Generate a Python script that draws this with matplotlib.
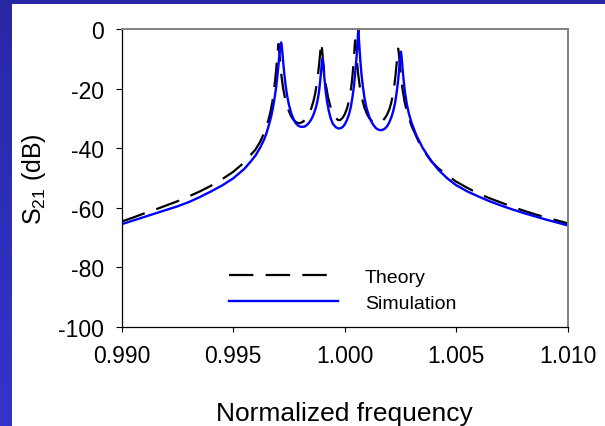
import numpy as np
import matplotlib
matplotlib.use('agg')
import matplotlib.pyplot as plt
from matplotlib.patches import Rectangle

plt.rcParams['font.family'] = ['Liberation Sans', 'DejaVu Sans']
plt.rcParams['mathtext.fontset'] = 'custom'
plt.rcParams['mathtext.rm'] = 'Liberation Sans'
plt.rcParams['mathtext.it'] = 'Liberation Sans:italic'
plt.rcParams['axes.unicode_minus'] = False

# values (normalized frequency, S21 in dB)
sim_freq = [0.9900, 0.9905, 0.9910, 0.9915, 0.9920, 0.9925, 0.9930, 0.9935, 0.9940,
            0.9945, 0.9950, 0.9955, 0.9958, 0.9960, 0.9962, 0.9964,
            0.9965, 0.9966, 0.9967, 0.99678, 0.99685, 0.99692, 0.99697, 0.99702,
            0.99706, 0.99710, 0.99713, 0.99715, 0.99717, 0.99720, 0.99724, 0.99729,
            0.99735, 0.99742, 0.9975, 0.9976, 0.9977, 0.9978, 0.9979, 0.9980,
            0.9981, 0.9982, 0.9983, 0.9984, 0.9985, 0.9986, 0.9987, 0.99877,
            0.99884, 0.99890, 0.99895, 0.99898, 0.99900, 0.99902, 0.99905, 0.99909,
            0.99914, 0.99920, 0.99928, 0.99937, 0.99947, 0.9996, 0.9997, 0.9998,
            0.9999, 1.0000, 1.0001, 1.0002, 1.00028, 1.00035, 1.00042, 1.00048,
            1.00053, 1.00057, 1.00059, 1.00061, 1.00063, 1.00066, 1.00070, 1.00075,
            1.00081, 1.00088, 1.00097, 1.0011, 1.0012, 1.0013, 1.0014, 1.0015,
            1.0016, 1.0017, 1.0018, 1.0019, 1.0020, 1.0021, 1.00218, 1.00226,
            1.00233, 1.00240, 1.00245, 1.00249, 1.00252, 1.00255, 1.00259, 1.00264,
            1.00270, 1.00278, 1.00288, 1.0030, 1.0032, 1.0035, 1.0037, 1.0039,
            1.0042, 1.0046, 1.0050, 1.0055, 1.0060, 1.0065, 1.0070, 1.0075,
            1.0080, 1.0085, 1.0090, 1.0095, 1.0100]
sim_db = [-65.6, -64.4, -63.2, -62.0, -60.8, -59.6, -58.2, -56.5, -54.6,
          -52.6, -50.2, -47.0, -44.4, -42.5, -40.0, -36.9,
          -34.8, -32.3, -29.5, -26.5, -23.5, -19.8, -16.5, -12.8,
          -9.5, -6.8, -5.0, -4.5, -5.2, -7.5, -11.0, -15.0,
          -19.0, -22.5, -25.5, -28.3, -30.2, -31.6, -32.4, -32.8,
          -32.9, -32.8, -32.3, -31.5, -30.4, -28.8, -26.6, -24.5,
          -21.5, -17.5, -13.5, -11.0, -10.0, -10.8, -13.0, -16.5,
          -20.5, -24.0, -27.3, -30.0, -31.9, -33.0, -33.4, -33.4,
          -33.0, -32.1, -30.6, -28.5, -26.0, -22.8, -18.8, -14.0,
          -9.5, -5.5, -2.5, -0.2, -2.5, -6.0, -10.5, -15.0,
          -19.0, -22.8, -26.3, -29.5, -31.2, -32.4, -33.3, -33.8,
          -34.0, -33.9, -33.5, -32.7, -31.4, -29.5, -27.5, -24.8,
          -21.3, -17.0, -13.0, -9.8, -7.6, -9.2, -12.8, -17.0,
          -21.0, -25.0, -28.5, -31.5, -35.5, -40.0, -42.3, -44.5,
          -47.3, -50.2, -52.5, -54.6, -56.3, -57.9, -59.3, -60.6,
          -61.8, -62.9, -64.0, -65.0, -66.0]

theory_freq = [0.9900, 0.9905, 0.9910, 0.9915, 0.9920, 0.9925, 0.9930, 0.9935, 0.9940,
               0.9945, 0.9950, 0.9955, 0.9958, 0.9960, 0.9962, 0.9964,
               0.9965, 0.9966, 0.99668, 0.99676, 0.99683, 0.99689, 0.99694, 0.99698,
               0.99701, 0.99703, 0.99705, 0.99708, 0.99712, 0.99717, 0.99724, 0.99733,
               0.99745, 0.9976, 0.9977, 0.9978, 0.9979, 0.9980, 0.9981, 0.9982,
               0.9983, 0.9984, 0.9985, 0.9986, 0.99868, 0.99875, 0.99881, 0.99886,
               0.99890, 0.99893, 0.99895, 0.99897, 0.99900, 0.99904, 0.99909, 0.99916,
               0.99925, 0.99935, 0.99947, 0.9996, 0.9997, 0.9998, 0.9999, 1.0000,
               1.0001, 1.00018, 1.00025, 1.00031, 1.00036, 1.00040, 1.00043, 1.00045,
               1.00047, 1.00049, 1.00052, 1.00056, 1.00061, 1.00068, 1.00077, 1.00088,
               1.0010, 1.0011, 1.0012, 1.0013, 1.0014, 1.0015, 1.0016, 1.0017,
               1.0018, 1.0019, 1.0020, 1.00208, 1.00215, 1.00222, 1.00228, 1.00233,
               1.00237, 1.00240, 1.00243, 1.00247, 1.00252, 1.00259, 1.00268, 1.0028,
               1.0030, 1.0033, 1.0035, 1.0037, 1.0039, 1.0042, 1.0046, 1.0050,
               1.0055, 1.0060, 1.0065, 1.0070, 1.0075, 1.0080, 1.0085, 1.0090,
               1.0095, 1.0100]
theory_db = [-64.7, -63.4, -62.0, -60.7, -59.3, -57.9, -56.3, -54.6, -52.7,
             -50.5, -48.0, -44.8, -42.2, -40.5, -38.0, -34.8,
             -32.5, -30.0, -27.5, -24.3, -20.5, -16.5, -12.5, -9.0,
             -6.3, -5.0, -6.3, -9.0, -12.5, -16.2, -20.0, -23.5,
             -26.8, -29.4, -30.5, -31.2, -31.6, -31.6, -31.3, -30.7,
             -29.8, -28.5, -26.7, -24.2, -21.5, -18.3, -14.8, -11.3,
             -8.2, -5.6, -4.5, -5.6, -8.2, -11.5, -15.0, -19.0,
             -22.8, -25.8, -28.3, -29.9, -30.6, -30.6, -29.9, -28.7,
             -26.8, -24.5, -21.8, -18.5, -14.8, -11.0, -7.8, -5.3,
             -3.8, -5.3, -8.2, -11.8, -15.5, -19.5, -23.2, -26.3,
             -28.6, -29.9, -30.8, -31.3, -31.6, -31.6, -31.3, -30.8,
             -30.0, -28.8, -27.0, -25.0, -22.5, -19.3, -15.5, -11.6,
             -8.5, -6.6, -8.3, -11.8, -15.8, -20.0, -24.2, -28.2,
             -32.6, -37.6, -40.3, -42.6, -44.6, -46.8, -49.2, -51.3,
             -53.4, -55.3, -56.9, -58.3, -59.7, -61.0, -62.2, -63.3,
             -64.3, -65.3]

x_ticks = [0.990, 0.995, 1.000, 1.005, 1.010]
x_labels = ['0.990', '0.995', '1.000', '1.005', '1.010']
y_ticks = [0, -20, -40, -60, -80, -100]

fig = plt.figure(figsize=(6.05, 4.27), dpi=100)

# blue slide background with white panel
bg = fig.add_axes([0, 0, 1, 1], zorder=-10)
grad = np.linspace(0, 1, 256).reshape(-1, 1)
top_c = np.array([40, 40, 165]) / 255.0
bot_c = np.array([52, 52, 205]) / 255.0
img = top_c[None, None, :] * (1 - grad[:, :, None]) + bot_c[None, None, :] * grad[:, :, None]
bg.imshow(img, aspect='auto', extent=[0, 1, 0, 1], origin='upper')
bg.add_patch(Rectangle((12 / 605, 0), 1, 1 - 5 / 427, facecolor='white', edgecolor='none'))
bg.set_xlim(0, 1)
bg.set_ylim(0, 1)
bg.axis('off')

ax = fig.add_axes([0.2012, 0.233, 0.7371, 0.6967])
ax.plot(theory_freq, theory_db, color='black', lw=1.6, dashes=(11, 5.5), label='Theory')
ax.plot(sim_freq, sim_db, color='#0000ff', lw=1.7, label='Simulation')

ax.set_xlim(0.990, 1.010)
ax.set_ylim(-100, 0)
ax.set_xticks(x_ticks)
ax.set_xticklabels(x_labels)
ax.set_yticks(y_ticks)
ax.tick_params(axis='both', labelsize=16.5, direction='out', width=0.8, color='black')
ax.tick_params(axis='y', length=4, pad=9)
ax.tick_params(axis='x', length=3.5, pad=9)

for s in ['left', 'bottom']:
    ax.spines[s].set_color('black')
    ax.spines[s].set_linewidth(0.9)
for s in ['top', 'right']:
    ax.spines[s].set_color('#808080')
    ax.spines[s].set_linewidth(1.4)

ax.set_xlabel('Normalized frequency', fontsize=19)
ax.xaxis.set_label_coords(0.5, -0.25)
ax.set_ylabel('S$_{21}$ (dB)', fontsize=18)
ax.yaxis.set_label_coords(-0.165, 0.5)

ax.legend(loc='upper left', bbox_to_anchor=(0.2224, 0.223), frameon=False, fontsize=14,
          handlelength=5.6, handletextpad=1.4, labelspacing=0.45, borderaxespad=0)

plt.savefig('out.png', format='png', dpi=100)
plt.close()
